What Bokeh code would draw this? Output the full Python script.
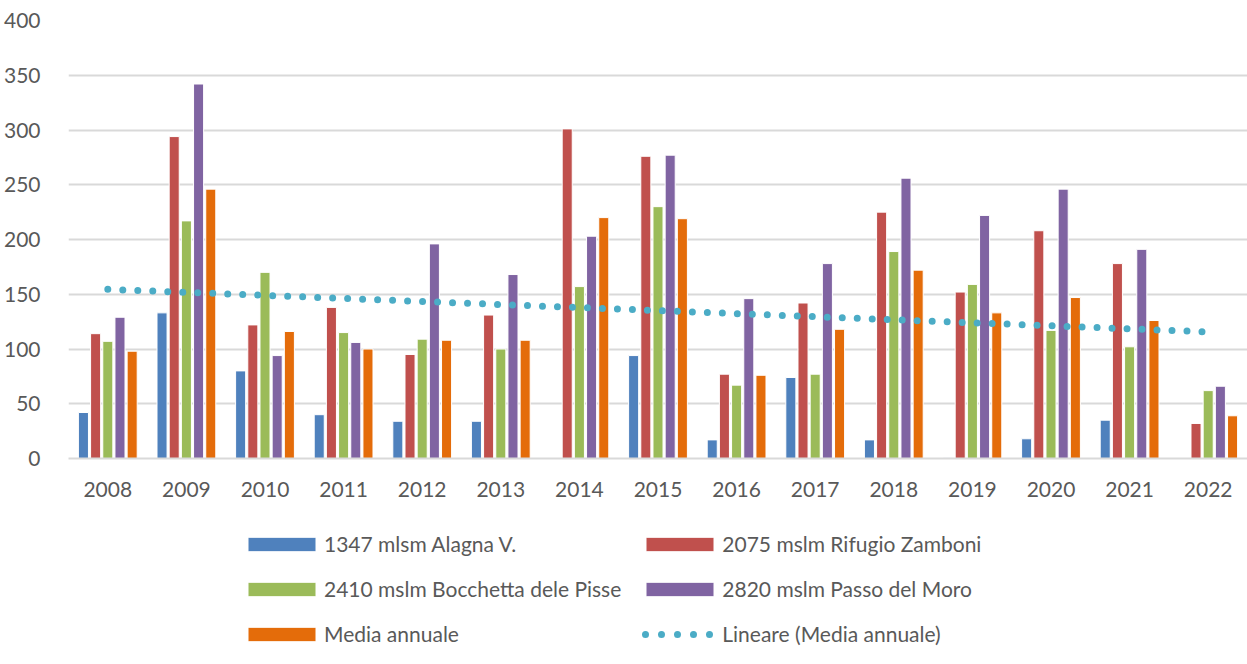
import numpy as np
from bokeh.plotting import figure
from bokeh.layouts import column
from bokeh.models import ColumnDataSource, Legend, LegendItem, FixedTicker, Range1d, FactorRange
from bokeh.transform import dodge
from bokeh.embed import file_html
from bokeh.resources import INLINE

years = ["2008", "2009", "2010", "2011", "2012", "2013", "2014", "2015",
         "2016", "2017", "2018", "2019", "2020", "2021", "2022"]
alagna = [42, 133, 80, 40, 34, 34, 0, 94, 17, 74, 17, 1, 18, 35, 0]
zamboni = [114, 294, 122, 138, 95, 131, 301, 276, 77, 142, 225, 152, 208, 178, 32]
bocchetta = [107, 217, 170, 115, 109, 100, 157, 230, 67, 77, 189, 159, 117, 102, 62]
moro = [129, 342, 94, 106, 196, 168, 203, 277, 146, 178, 256, 222, 246, 191, 66]
media = [98, 246, 116, 100, 108, 108, 220, 219, 76, 118, 172, 133, 147, 126, 39]

series_names = ["1347 mlsm Alagna V.", "2075 mslm Rifugio Zamboni",
                "2410 mslm Bocchetta dele Pisse", "2820 mslm Passo del Moro",
                "Media annuale"]
trend_name = "Lineare (Media annuale)"
y_ticks = [0, 50, 100, 150, 200, 250, 300, 350, 400]

colors = ["#4F81BD", "#C0504D", "#9BBB59", "#8064A2", "#E46C0A"]
trend_color = "#4BACC6"
text_color = "#595959"
grid_color = "#D9D9D9"
FONT = "Lato"

# linear trend of the annual mean (least squares, like Excel's trendline)
xi = np.arange(1, len(media) + 1)
slope, intercept = np.polyfit(xi, np.array(media, dtype=float), 1)
trend = list(intercept + slope * xi)

source = ColumnDataSource(dict(years=years, s0=alagna, s1=zamboni, s2=bocchetta,
                               s3=moro, s4=media, trend=trend))

W = 1247
H1 = 505
H2 = 159

p = figure(width=W, height=H1, x_range=FactorRange(*years, range_padding=0),
           y_range=Range1d(0, 400), output_backend="svg", toolbar_location=None,
           min_border_left=68, min_border_right=0, min_border_top=20, min_border_bottom=47)

p.outline_line_color = None
p.background_fill_color = "white"
p.border_fill_color = "white"

offsets = [-0.31, -0.155, 0.0, 0.155, 0.31]
bar_width = 0.128
bar_style = [dict(fill_color=c, line_color="white", line_width=1) for c in colors]
for i, off in enumerate(offsets):
    p.vbar(x=dodge("years", off, range=p.x_range), top="s%d" % i, width=bar_width,
           source=source, **bar_style[i])

trend_style = dict(line_color=trend_color, line_width=7, line_cap="round")
p.line(x="years", y="trend", source=source, line_dash="0 15", **trend_style)

# axes
p.yaxis.ticker = FixedTicker(ticks=y_ticks)
p.yaxis.axis_line_color = None
p.yaxis.major_tick_line_color = None
p.yaxis.minor_tick_line_color = None
p.yaxis.major_label_standoff = 22
p.yaxis.major_label_text_font = FONT
p.yaxis.major_label_text_font_size = "21px"
p.yaxis.major_label_text_color = text_color

p.xaxis.axis_line_color = grid_color
p.xaxis.axis_line_width = 2
p.xaxis.major_tick_line_color = None
p.xaxis.minor_tick_line_color = None
p.xaxis.major_label_standoff = 17
p.xaxis.major_label_text_font = FONT
p.xaxis.major_label_text_font_size = "21px"
p.xaxis.major_label_text_color = text_color

p.xgrid.grid_line_color = None
p.ygrid.grid_line_color = grid_color
p.ygrid.grid_line_width = 2

# legend panel: a second figure under the chart; its renderers use the same data
# but a y-range above all values, so only their legend swatches are visible.
p2 = figure(width=W, height=H2, x_range=FactorRange(*years, range_padding=0),
            y_range=Range1d(1000, 1100), output_backend="svg", toolbar_location=None,
            x_axis_type=None, y_axis_type=None,
            min_border_left=68, min_border_right=0, min_border_top=0, min_border_bottom=0)
p2.outline_line_color = None
p2.background_fill_color = "white"
p2.border_fill_color = "white"
p2.xgrid.grid_line_color = None
p2.ygrid.grid_line_color = None
leg_renderers = []
for i, off in enumerate(offsets):
    leg_renderers.append(p2.vbar(x=dodge("years", off, range=p2.x_range), top="s%d" % i,
                                 width=bar_width, source=source, **bar_style[i]))
leg_renderers.append(p2.line(x="years", y="trend", source=source, line_dash="0 16",
                             line_dash_offset=8, **trend_style))
labels = series_names + [trend_name]
items = [LegendItem(label=labels[i], renderers=[leg_renderers[i]]) for i in range(6)]
legend = Legend(items=items, orientation="horizontal", ncols=2,
                location=(171, 16), glyph_width=85, glyph_height=18,
                label_standoff=0, label_height=29, spacing=16, padding=0, margin=0,
                label_text_font=FONT, label_text_font_size="21px",
                label_text_color=text_color, border_line_color=None,
                background_fill_alpha=0)
p2.add_layout(legend, "center")

open("out.html", "w").write(file_html(column(p, p2, spacing=0), INLINE))
